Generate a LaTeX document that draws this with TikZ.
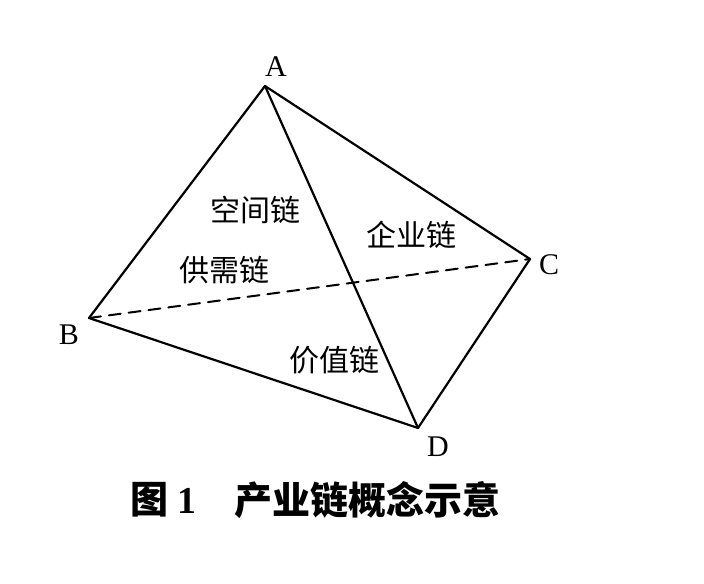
\documentclass[tikz,border=0pt]{standalone}
\usepackage{fontspec}
\setmainfont{Liberation Serif}
\newfontfamily\cjk{Noto Sans CJK SC}
\usetikzlibrary{calc}
\begin{document}
\begin{tikzpicture}[x=0.5pt, y=-0.5pt, line join=round, line cap=round,
	edge/.style={line width=1.1pt},
	hidden/.style={line width=1pt, dash pattern=on 6pt off 4pt},
	vlabel/.style={font=\fontsize{15}{15}\selectfont, inner sep=0pt},
	face/.style={font=\cjk\fontsize{15}{15}\selectfont, inner sep=0pt},
	caption/.style={anchor=west, inner sep=0pt, font=\cjk\bfseries\fontsize{19}{19}\selectfont}]
	\useasboundingbox (0,0) rectangle (704,583);
	% vertices
	\coordinate (A) at (265,86);
	\coordinate (B) at (89,318);
	\coordinate (C) at (530,259);
	\coordinate (D) at (418,428);
	\draw[edge] (A)--(B)--(D)--(C)--cycle;
	\draw[edge] (A)--(D);
	\draw[hidden] (B)--(C);
	% vertex labels
	\node[vlabel] (lA) at (276,67) {A};
	\node[vlabel] (lB) at (69,335) {B};
	\node[vlabel] (lC) at (549,265) {C};
	\node[vlabel] (lD) at (438,447) {D};
	% faces
	\node[face] (space) at (255,210) {空间链};
	\node[face] (firm) at (411,235) {企业链};
	\node[face] (supply) at (224,270) {供需链};
	\node[face] (value) at (334,360) {价值链};
	% caption
	\node[caption] (fig) at (130,500) {图 \textrm{1}};
	\node[caption] (cap) at (234,500) {产业链概念示意};
\end{tikzpicture}
\end{document}
